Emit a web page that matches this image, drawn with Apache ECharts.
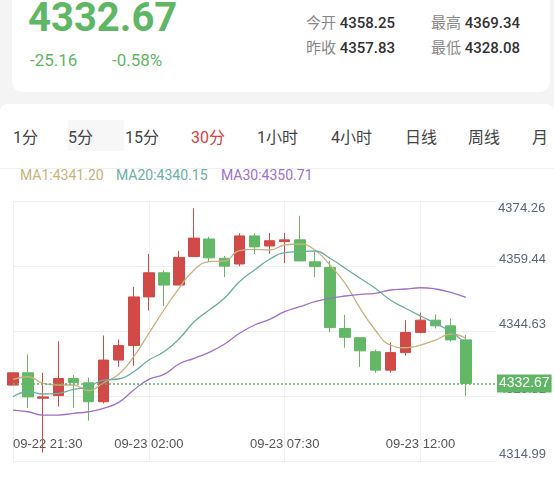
<!DOCTYPE html>
<html><head><meta charset="utf-8">
<script src="https://cdn.jsdelivr.net/npm/echarts@6/dist/echarts.min.js"></script>
<style>
body{margin:0;width:554px;height:489px;background:#f4f4f4;font-family:Roboto,"Noto Sans CJK SC",sans-serif;overflow:hidden;position:relative}
.card1{position:absolute;left:12px;top:-10px;width:538px;height:102px;background:#fff;border-radius:10px}
.card2{position:absolute;left:0;top:104px;width:554px;height:400px;background:#fff;border-radius:8px}
.abs{position:absolute;white-space:nowrap}
.v{color:#333;font-weight:500}
#c{position:absolute;left:0;top:0;width:554px;height:489px}
</style></head><body>
<div class="card1"></div><div class="card2"></div>
<div class="abs" style="left:28px;top:-6px;font-size:40px;font-weight:bold;color:#5fb765">4332.67</div>
<div class="abs" style="left:30px;top:50px;font-size:17px;color:#5fb765">-25.16</div>
<div class="abs" style="left:112px;top:50px;font-size:17px;color:#5fb765">-0.58%</div>
<div class="abs" style="left:306px;top:11px;font-size:15px;color:#888">今开 <span class="v">4358.25</span></div>
<div class="abs" style="left:431px;top:11px;font-size:15px;color:#888">最高 <span class="v">4369.34</span></div>
<div class="abs" style="left:306px;top:36px;font-size:15px;color:#888">昨收 <span class="v">4357.83</span></div>
<div class="abs" style="left:431px;top:36px;font-size:15px;color:#888">最低 <span class="v">4328.08</span></div>
<div class="abs" style="left:68px;top:120px;width:56px;height:31px;background:#f7f7f7"></div>
<div class="abs" style="left:0;top:124px;font-size:16px;color:#444;width:554px">
<span class="abs" style="left:13px">1分</span><span class="abs" style="left:68px">5分</span><span class="abs" style="left:125px">15分</span><span class="abs" style="left:191px;color:#d9413f">30分</span><span class="abs" style="left:257px">1小时</span><span class="abs" style="left:331px">4小时</span><span class="abs" style="left:405px">日线</span><span class="abs" style="left:468px">周线</span><span class="abs" style="left:532px">月</span></div>
<div class="abs" style="left:0;top:168px;width:554px;border-top:1px solid #f0f0f0"></div>
<div class="abs" style="left:20px;top:167px;font-size:14px;color:#c8b27e">MA1:4341.20</div>
<div class="abs" style="left:116px;top:167px;font-size:14px;color:#6aafa1">MA20:4340.15</div>
<div class="abs" style="left:221px;top:167px;font-size:14px;color:#9b72cc">MA30:4350.71</div>
<div id="c"></div>
<script>
const categories=["09-22 21:30","22:00","22:30","23:00","23:30","00:00","00:30","01:00","01:30","09-23 02:00","02:30","03:00","03:30","04:00","04:30","05:00","05:30","06:00","09-23 07:30","08:00","08:30","09:00","09:30","10:00","10:30","11:00","11:30","09-23 12:00","12:30","13:00","13:30","14:00","14:30"];
// [open, close, low, high]
const candles=[
[4332.3,4335.1,4332.3,4335.1],[4335.1,4329.6,4327.1,4339.3],[4329.3,4329.6,4316.9,4335.1],[4329.9,4333.8,4327.4,4342.3],
[4333.8,4332.9,4327.1,4334.6],[4332.8,4328.5,4324.2,4334.0],[4328.5,4338.0,4328.1,4343.6],[4338.0,4341.3,4336.5,4342.7],
[4341.3,4352.4,4336.7,4354.7],[4352.4,4357.9,4349.3,4362.2],[4357.9,4355.1,4350.3,4358.5],[4355.1,4361.4,4355.1,4362.9],
[4361.6,4365.8,4361.6,4372.6],[4365.6,4361.3,4360.4,4366.1],[4361.2,4359.4,4356.9,4361.7],[4359.9,4366.3,4359.4,4366.9],
[4366.3,4363.8,4362.2,4366.9],[4364.0,4365.2,4362.2,4367.0],[4365.0,4365.4,4360.1,4367.0],[4365.4,4360.6,4360.6,4370.9],
[4360.4,4359.3,4356.9,4362.7],[4359.1,4345.4,4344.3,4360.6],[4345.2,4343.2,4340.8,4348.3],[4343.1,4340.1,4336.4,4343.1],
[4339.9,4335.7,4335.1,4340.4],[4335.7,4339.7,4335.1,4342.0],[4339.7,4344.3,4339.0,4347.1],[4344.3,4347.1,4344.1,4348.8],
[4347.1,4345.8,4345.2,4348.4],[4345.8,4342.6,4342.2,4347.5],[4342.6,4332.67,4329.9,4343.7]];
const ma1=[4333.61,4334.20,4332.70,4332.31,4332.31,4331.01,4332.83,4334.75,4338.76,4344.10,4349.41,4354.36,4358.53,4360.42,4360.58,4362.93,4363.25,4363.09,4364.23,4364.46,4363.09,4359.67,4355.50,4349.80,4344.85,4341.43,4340.81,4341.43,4342.57,4343.94,4342.96];
const ma20=[4329.64,4330.78,4330.26,4330.42,4331.33,4331.92,4333.45,4333.68,4335.34,4338.01,4339.90,4342.80,4346.74,4349.41,4352.08,4355.86,4358.53,4360.97,4362.47,4362.70,4362.86,4361.20,4358.92,4356.64,4354.36,4351.69,4349.80,4348.04,4346.38,4344.46,4341.82];
const ma30=[4326.61,4326.22,4325.47,4325.47,4325.86,4326.22,4327.00,4328.36,4331.17,4333.61,4334.75,4337.10,4338.40,4339.76,4341.59,4344.10,4345.99,4347.29,4349.02,4350.16,4351.30,4352.08,4352.60,4352.99,4353.22,4353.97,4354.20,4354.49,4354.20,4353.44,4352.30];
const yTicks=[4314.99,4329.81,4344.63,4359.44,4374.26];
const lastPrice=4332.67;
const labelIdx=[0,9,18,27];
const chart=echarts.init(document.getElementById('c'));
const ln=(d,c)=>({type:'line',data:d,symbol:'none',smooth:true,lineStyle:{width:1.3,color:c},silent:true});
chart.setOption({
 animation:false,
 grid:{left:13,right:58,top:201,bottom:28},
 xAxis:{type:'category',data:categories,boundaryGap:false,axisLine:{show:false},axisTick:{show:false},
  axisLabel:{inside:true,margin:10,color:'#555',fontSize:13,interval:(i)=>labelIdx.includes(i),alignMinLabel:'left'},
  splitLine:{show:true,interval:(i)=>labelIdx.includes(i),lineStyle:{color:'#f0f0f0'}}},
 yAxis:{type:'value',position:'right',min:yTicks[0],max:yTicks[4],interval:(yTicks[4]-yTicks[0])/4,
  axisLine:{show:false},axisTick:{show:false},splitLine:{lineStyle:{color:'#f0f0f0'}},
  axisLabel:{color:'#5d677a',fontSize:13,margin:3,verticalAlign:'bottom',showMaxLabel:false,formatter:v=>v.toFixed(2)}},
 graphic:[{type:'text',left:498,top:202,style:{text:yTicks[4].toFixed(2),fill:'#5d677a',font:'13px Roboto'}}],
 series:[
  {type:'candlestick',data:candles,barWidth:11,
   itemStyle:{color:'#d14a47',color0:'#62b865',borderColor:'#d14a47',borderColor0:'#62b865'},
   markLine:{symbol:'none',silent:true,data:[{yAxis:lastPrice,lineStyle:{type:[2,2],color:'#5fb765',width:1.5}}],
    lineStyle:{type:[2,2],color:'#5fb765',width:1.5},
    label:{position:'end',distance:1,formatter:lastPrice.toFixed(2),color:'#fff',backgroundColor:'#5fb765',fontSize:14,padding:[2,2]}}},
  ln(ma1,'#c8b27e'),ln(ma20,'#6aafa1'),ln(ma30,'#9b72cc')
 ]
});
</script></body></html>
